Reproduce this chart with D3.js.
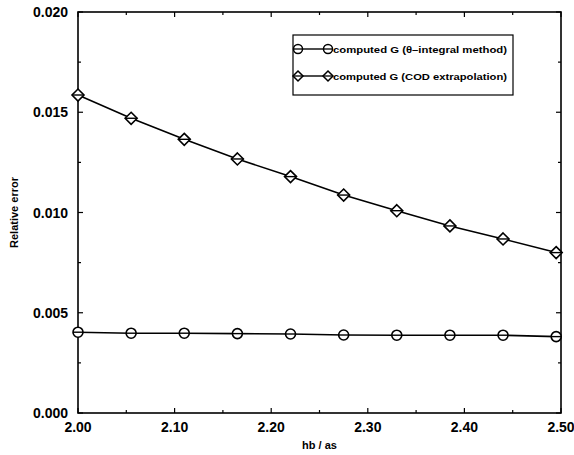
<!DOCTYPE html>
<html><head><meta charset="utf-8">
<script src="https://cdn.jsdelivr.net/npm/d3@7"></script>
<style>body{margin:0;background:#fff}svg{display:block}text{font-family:"Liberation Sans",Arial,sans-serif;font-weight:bold;fill:#000}</style>
</head><body><svg id="c" width="574" height="455"></svg>
<script>
const hbAs = [2.000, 2.055, 2.110, 2.165, 2.220, 2.275, 2.330, 2.385, 2.440, 2.495];
const thetaIntegral = [0.00403, 0.00398, 0.00398, 0.00396, 0.00394, 0.00389, 0.00388, 0.00388, 0.00388, 0.00381];
const codExtrap = [0.01586, 0.01470, 0.01365, 0.01267, 0.01179, 0.01087, 0.01009, 0.00933, 0.00868, 0.00800];
const xTicks = [2.00, 2.10, 2.20, 2.30, 2.40, 2.50];
const yTicks = [0.000, 0.005, 0.010, 0.015, 0.020];
const seriesNames = ["computed G (\u03b8\u2013integral method)", "computed G (COD extrapolation)"];

const svg = d3.select("#c");
const L = 78, R = 561, T = 12, B = 413;
const x = d3.scaleLinear().domain([2.0, 2.5]).range([L, R]);
const y = d3.scaleLinear().domain([0, 0.02]).range([B, T]);

// frame
svg.append("rect").attr("x", L).attr("y", T).attr("width", R - L).attr("height", B - T)
  .attr("fill", "none").attr("stroke", "#000").attr("stroke-width", 1.6);

const xMinor = d3.range(0, 11).map(i => 2.0 + i * 0.05);
const yMinor = d3.range(0, 9).map(i => i * 0.0025);
const g = svg.append("g").attr("stroke", "#000").attr("stroke-width", 1.2);
xMinor.forEach((v, i) => {
  const len = i % 2 === 0 ? 5 : 3;
  g.append("line").attr("x1", x(v)).attr("x2", x(v)).attr("y1", B).attr("y2", B - len);
  g.append("line").attr("x1", x(v)).attr("x2", x(v)).attr("y1", T).attr("y2", T + len);
});
yMinor.forEach((v, i) => {
  const len = i % 2 === 0 ? 5 : 3;
  g.append("line").attr("y1", y(v)).attr("y2", y(v)).attr("x1", L).attr("x2", L + len);
  g.append("line").attr("y1", y(v)).attr("y2", y(v)).attr("x1", R).attr("x2", R - len);
});

// tick labels
svg.append("g").selectAll("text").data(xTicks).join("text")
  .attr("x", d => x(d)).attr("y", 432).attr("text-anchor", "middle")
  .attr("font-size", 14).text(d => d.toFixed(2));
svg.append("g").selectAll("text").data(yTicks).join("text")
  .attr("x", 68).attr("y", d => y(d) + 5).attr("text-anchor", "end")
  .attr("font-size", 14).text(d => d.toFixed(3));

// axis titles
svg.append("text").attr("x", (L + R) / 2).attr("y", 449).attr("text-anchor", "middle")
  .attr("font-size", 11).text("hb / as");
svg.append("text").attr("transform", `translate(18,${(T + B) / 2}) rotate(-90)`)
  .attr("text-anchor", "middle").attr("font-size", 11).text("Relative error");

const line = d3.line().x((d, i) => x(hbAs[i])).y(d => y(d));
const diamond = (s) => `M0,${-s}L${s},0L0,${s}L${-s},0Z`;

function drawSeries(vals, shape) {
  svg.append("path").datum(vals).attr("d", line).attr("fill", "none")
    .attr("stroke", "#000").attr("stroke-width", 1.6);
  const m = svg.append("g").selectAll("g").data(vals).join("g")
    .attr("transform", (d, i) => `translate(${x(hbAs[i])},${y(d)})`);
  if (shape === "circle") {
    m.append("circle").attr("r", 5).attr("fill", "#fff").attr("stroke", "#000").attr("stroke-width", 1.6);
    m.append("line").attr("x1", -5).attr("x2", 5).attr("stroke", "#000").attr("stroke-width", 1.4);
  } else {
    m.append("path").attr("d", diamond(6)).attr("fill", "#fff").attr("stroke", "#000").attr("stroke-width", 1.6);
    m.append("line").attr("x1", -6).attr("x2", 6).attr("stroke", "#000").attr("stroke-width", 1.4);
  }
}
drawSeries(thetaIntegral, "circle");
drawSeries(codExtrap, "diamond");

// legend
const lg = svg.append("g");
lg.append("rect").attr("x", 293).attr("y", 35).attr("width", 220).attr("height", 60)
  .attr("fill", "#fff").attr("stroke", "#000").attr("stroke-width", 1.2);
const rows = [{name: seriesNames[0], shape: "circle", yy: 49}, {name: seriesNames[1], shape: "diamond", yy: 76}];
rows.forEach(r => {
  lg.append("line").attr("x1", 298).attr("x2", 328).attr("y1", r.yy).attr("y2", r.yy)
    .attr("stroke", "#000").attr("stroke-width", 1.4);
  [298, 328].forEach(cx => {
    if (r.shape === "circle") {
      lg.append("circle").attr("cx", cx).attr("cy", r.yy).attr("r", 4.5).attr("fill", "#fff").attr("stroke", "#000").attr("stroke-width", 1.5);
    } else {
      lg.append("path").attr("transform", `translate(${cx},${r.yy})`).attr("d", diamond(5)).attr("fill", "#fff").attr("stroke", "#000").attr("stroke-width", 1.5);
    }
    lg.append("line").attr("x1", cx - 4.5).attr("x2", cx + 4.5).attr("y1", r.yy).attr("y2", r.yy).attr("stroke", "#000").attr("stroke-width", 1.3);
  });
  lg.append("text").attr("x", 333).attr("y", r.yy + 3.5).attr("font-size", 9.5)
    .attr("textLength", 174).attr("lengthAdjust", "spacingAndGlyphs").text(r.name);
});
</script></body></html>
